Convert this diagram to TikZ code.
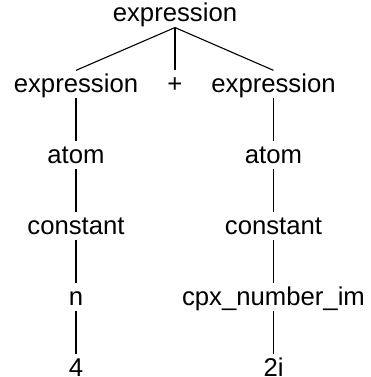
\documentclass[tikz,border=0pt]{standalone}
\usepackage{fontspec}
\setmainfont{Liberation Sans}
\usetikzlibrary{positioning}

\begin{document}
\begin{tikzpicture}[x = 1pt, y = -1pt, line width = 1.1pt, node distance = 42.8pt, sym/.style = { font = \fontsize{25.7}{30}\selectfont, text height = 22pt, text depth = 5pt, inner sep = 0pt }]
				\useasboundingbox (0, 0) rectangle (370, 377);

				\node [sym, anchor = base] (root) at (175, 22) {expression};

				\node [sym, below = of root, xshift = -99pt] (lexpr) {expression};
				\node [sym, below = of root] (plus) {+};
				\node [sym, below = of root, xshift = 98.5pt] (rexpr) {expression};

				\node [sym, below = of lexpr] (latom) {atom};
				\node [sym, below = of latom] (lconst) {constant};
				\node [sym, below = of lconst] (lnum) {n};
				\node [sym, below = of lnum] (lval) {4};

				\node [sym, below = of rexpr] (ratom) {atom};
				\node [sym, below = of ratom] (rconst) {constant};
				\node [sym, below = of rconst] (rcpx) {cpx\_number\_im};
				\node [sym, below = of rcpx] (rval) {2i};

				\draw (root.south) -- (lexpr.north);
				\draw (root.south) -- (plus.north);
				\draw (root.south) -- (rexpr.north);

				\draw (lexpr) -- (latom);
				\draw (latom) -- (lconst);
				\draw (lconst) -- (lnum);
				\draw (lnum) -- (lval);

				\draw (rexpr) -- (ratom);
				\draw (ratom) -- (rconst);
				\draw (rconst) -- (rcpx);
				\draw (rcpx) -- (rval);
			\end{tikzpicture}
\end{document}
